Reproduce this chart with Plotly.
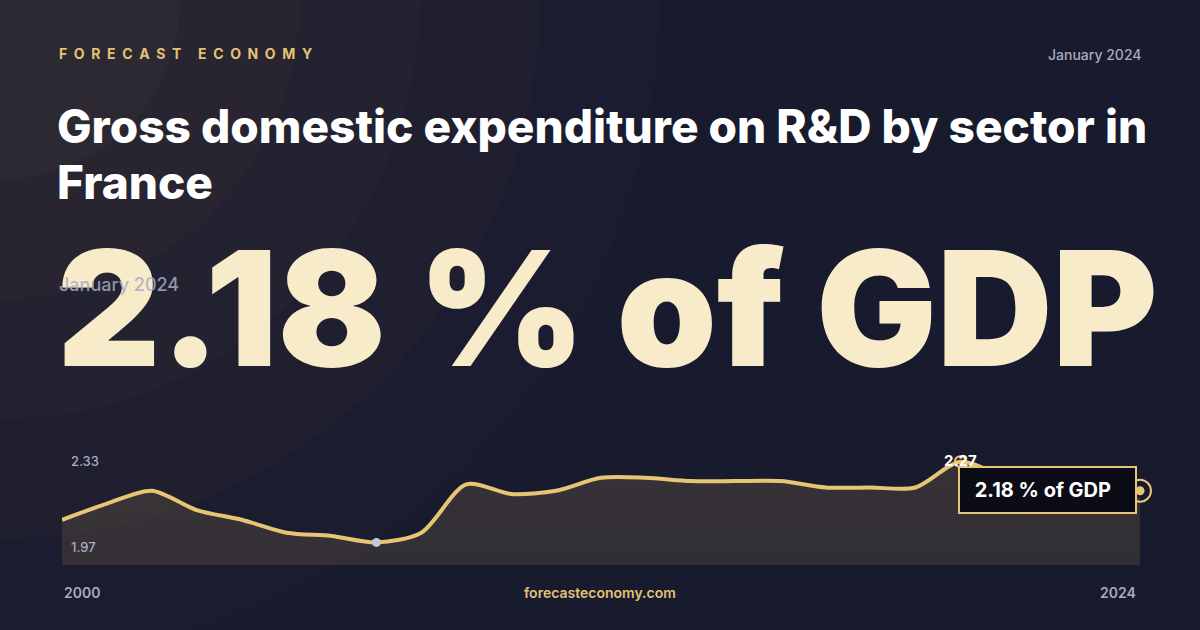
import plotly.graph_objects as go

years = list(range(2000, 2025))
values = [2.09, 2.14, 2.18, 2.12, 2.09, 2.05, 2.04, 2.02, 2.05, 2.20, 2.17, 2.18, 2.22,
          2.22, 2.21, 2.21, 2.21, 2.19, 2.19, 2.19, 2.27, 2.22, 2.18, 2.18, 2.18]
min_year, min_val = 2007, 2.02
max_year, max_val = 2020, 2.27
last_year, last_val = 2024, 2.18

W, H = 1200, 630
x0, x1 = 62 / W, 1140 / W
y0, y1 = 1 - 565 / H, 1 - 452 / H

fig = go.Figure()
fig.add_trace(go.Scatter(
    x=years, y=values, mode="lines", line=dict(color="#e8c574", width=4, shape="spline", smoothing=0.8),
    fill="tozeroy",
    fillgradient=dict(type="vertical", colorscale=[[0, "rgba(20,20,35,0.3)"], [1, "rgba(110,95,70,0.35)"]]),
    hoverinfo="skip"))
fig.add_trace(go.Scatter(x=[min_year], y=[min_val], mode="markers",
                         marker=dict(color="#c5c8dc", size=9), hoverinfo="skip"))
fig.add_trace(go.Scatter(x=[max_year], y=[max_val], mode="markers",
                         marker=dict(color="rgba(0,0,0,0)", size=11, line=dict(color="#e8c574", width=2)),
                         hoverinfo="skip"))

fig.update_xaxes(domain=[x0, x1], range=[2000, 2024], visible=False)
fig.update_yaxes(domain=[y0, y1], range=[1.95, 2.30], visible=False)

ann = []
def txt(x, y, s, size, color, weight=400, xanchor="left", yanchor="middle", family="Inter", **kw):
    ann.append(dict(x=x / W, y=1 - y / H, xref="paper", yref="paper", text=s, showarrow=False,
                    xanchor=xanchor, yanchor=yanchor,
                    font=dict(size=size, color=color, family=family, weight=weight), **kw))

sp = "&nbsp;"
header = (sp * 2).join("FORECAST") + sp * 5 + (sp * 2).join("ECONOMY")
txt(57, 53, header, 14, "#e3c275", 700)
txt(1143, 54, "January 2024", 14, "#a9abc0", 500, xanchor="right")
txt(55, 126, "Gross domestic expenditure on R&D by sector in", 46, "#ffffff", 800)
txt(55, 182, "France", 46, "#ffffff", 800)
txt(607, 308, "2.18 % of GDP", 160, "#f8ebca", 900, xanchor="center")
txt(57, 285, "January 2024", 18, "rgba(170,170,195,0.85)", 500)
txt(69, 461, "2.33", 13, "#a9abc0", 500)
txt(69, 547, "1.97", 13, "#a9abc0", 500)
txt(62, 592, "2000", 14, "#a9abc0", 600)
txt(1138, 592, "2024", 14, "#a9abc0", 600, xanchor="right")
txt(600, 592, "forecasteconomy.com", 14, "#e3c275", 600, xanchor="center")
txt(960, 461, "2.27", 15, "#ffffff", 700, xanchor="center")
txt(1047, 490, "&nbsp;2.18 % of GDP&nbsp;&nbsp;&nbsp;", 20, "#ffffff", 700, xanchor="center",
    bgcolor="#0c0c16", bordercolor="#e8c574", borderwidth=2, borderpad=10)

shapes = []
for r, a in [(0.55, 0.04), (0.45, 0.05), (0.35, 0.06), (0.25, 0.07), (0.15, 0.08)]:
    shapes.append(dict(type="circle", xref="paper", yref="paper", x0=-r, x1=r, y0=1 - r * 1.9, y1=1 + r * 1.9,
                       fillcolor=f"rgba(110,90,65,{a})", line_width=0, layer="below"))

fig.update_layout(
    width=W, height=H, margin=dict(l=0, r=0, t=0, b=0), showlegend=False,
    paper_bgcolor="#181a2e", plot_bgcolor="rgba(0,0,0,0)", annotations=ann, shapes=shapes,
)
fig.add_trace(go.Scatter(x=[last_year], y=[last_val], mode="markers",
                         marker=dict(color="#e8c574", size=11, line=dict(color="#1a1a2e", width=2)),
                         hoverinfo="skip", cliponaxis=False))
fig.add_trace(go.Scatter(x=[last_year], y=[last_val], mode="markers",
                         marker=dict(color="rgba(0,0,0,0)", size=22, line=dict(color="#e8c574", width=2)),
                         hoverinfo="skip", cliponaxis=False))
fig.write_html("out.html", config={"displayModeBar": False},
               post_script="document.body.style.margin='0';document.body.style.background='#181a2e';")
